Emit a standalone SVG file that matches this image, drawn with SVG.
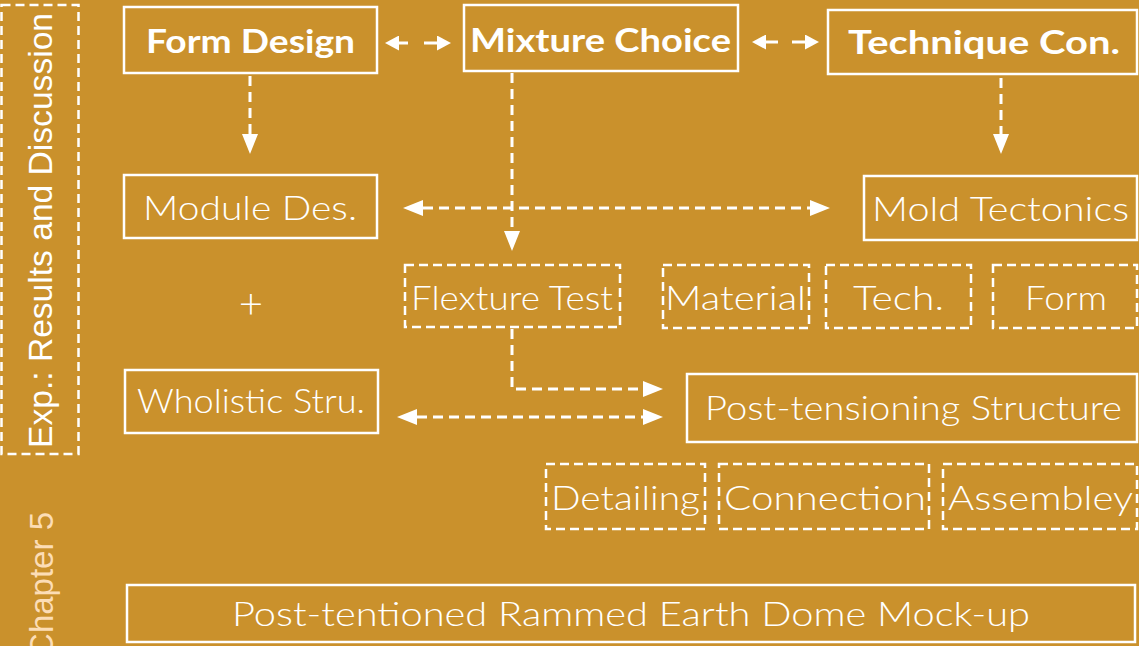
<svg xmlns="http://www.w3.org/2000/svg" width="1139" height="646" viewBox="0 0 1139 646">
<style>
.box{fill:none;stroke:#fff;stroke-width:2.5}
.dbox{fill:none;stroke:#fff;stroke-width:2.5;stroke-dasharray:9 5}
.t{font-family:Lato,"Liberation Sans",sans-serif;font-weight:300;font-size:34px;fill:#fff}
.b{font-family:Lato,"Liberation Sans",sans-serif;font-weight:700;font-size:33px;fill:#fff}
.side{font-family:"Liberation Sans",Arial,sans-serif;font-size:33px}
.c{fill:none;stroke:#fff;stroke-width:3;stroke-dasharray:10 6}
</style>
<defs>
<marker id="ah" viewBox="0 0 20 16" refX="0" refY="8" markerWidth="20" markerHeight="16" markerUnits="userSpaceOnUse" orient="auto-start-reverse">
<path d="M0,0 L20,8 L0,16 z" fill="#fff"/>
</marker>
<marker id="as" viewBox="0 0 14 15" refX="0" refY="7.5" markerWidth="14" markerHeight="15" markerUnits="userSpaceOnUse" orient="auto-start-reverse">
<path d="M0,0 L14,7.5 L0,15 z" fill="#fff"/>
</marker>
</defs>
<rect width="1139" height="646" fill="#CA912C"/>

<g id="side-box">
<rect x="1.5" y="5" width="77" height="449" class="dbox"/>
<text class="side" fill="#fff" transform="translate(52,448) rotate(-90)" textLength="435" lengthAdjust="spacingAndGlyphs">Exp.: Results and Discussion</text>
</g>
<g id="chapter">
<text class="side" fill="#FCDDB6" text-anchor="end" transform="translate(53,512) rotate(-90)">Chapter 5</text>
</g>

<g id="form-design">
<rect x="124" y="7" width="253" height="66" class="box"/>
<text class="b" x="146" y="53" textLength="209" lengthAdjust="spacingAndGlyphs">Form Design</text>
</g>
<g id="mixture-choice">
<rect x="464" y="5" width="274" height="66" class="box"/>
<text class="b" x="470" y="52" textLength="261" lengthAdjust="spacingAndGlyphs">Mixture Choice</text>
</g>
<g id="technique-con">
<rect x="828" y="10" width="309" height="64" class="box"/>
<text class="b" x="848" y="54" textLength="272" lengthAdjust="spacingAndGlyphs">Technique Con.</text>
</g>

<g id="module-des">
<rect x="124" y="175" width="253" height="63" class="box"/>
<text class="t" x="143" y="220" textLength="214" lengthAdjust="spacingAndGlyphs">Module Des.</text>
</g>
<g id="mold-tectonics">
<rect x="864" y="176" width="273" height="64" class="box"/>
<text class="t" x="872" y="221" textLength="257" lengthAdjust="spacingAndGlyphs">Mold Tectonics</text>
</g>

<g id="plus">
<text class="t" x="251" y="318" text-anchor="middle" style="font-size:42px">+</text>
</g>

<g id="flexture-test">
<rect x="405" y="265" width="215" height="62" class="dbox"/>
<text class="t" x="411" y="310" textLength="202" lengthAdjust="spacingAndGlyphs">Flexture Test</text>
</g>
<g id="material">
<rect x="663" y="265" width="146" height="63" class="dbox"/>
<text class="t" x="665" y="310" textLength="141" lengthAdjust="spacingAndGlyphs">Material</text>
</g>
<g id="tech">
<rect x="826" y="265" width="145" height="63" class="dbox"/>
<text class="t" x="853" y="310" textLength="91" lengthAdjust="spacingAndGlyphs">Tech.</text>
</g>
<g id="form">
<rect x="993" y="265" width="144" height="63" class="dbox"/>
<text class="t" x="1025" y="310" textLength="82" lengthAdjust="spacingAndGlyphs">Form</text>
</g>

<g id="wholistic-stru">
<rect x="125" y="370" width="253" height="63" class="box"/>
<text class="t" x="137" y="413" textLength="228" lengthAdjust="spacingAndGlyphs">Wholistic Stru.</text>
</g>
<g id="post-tensioning-structure">
<rect x="687" y="374" width="450" height="68" class="box"/>
<text class="t" x="705" y="420" textLength="417" lengthAdjust="spacingAndGlyphs">Post-tensioning Structure</text>
</g>

<g id="detailing">
<rect x="546" y="464" width="159" height="65" class="dbox"/>
<text class="t" x="551" y="510" textLength="149" lengthAdjust="spacingAndGlyphs">Detailing</text>
</g>
<g id="connection">
<rect x="719" y="464" width="210" height="65" class="dbox"/>
<text class="t" x="724" y="510" textLength="202" lengthAdjust="spacingAndGlyphs">Connection</text>
</g>
<g id="assembley">
<rect x="943" y="464" width="194" height="65" class="dbox"/>
<text class="t" x="948" y="510" textLength="185" lengthAdjust="spacingAndGlyphs">Assembley</text>
</g>

<g id="mock-up">
<rect x="127" y="585" width="1008" height="57" class="box"/>
<text class="t" x="232" y="626" textLength="798" lengthAdjust="spacingAndGlyphs">Post-tentioned Rammed Earth Dome Mock-up</text>
</g>

<g id="connectors">
<path d="M399,43 H437" class="c" style="stroke-dasharray:9 16 20" marker-start="url(#as)" marker-end="url(#as)"/>
<path d="M766,42 H805" class="c" style="stroke-dasharray:12 14 20" marker-start="url(#as)" marker-end="url(#as)"/>
<path d="M250,76 V134" class="c" marker-end="url(#ah)"/>
<path d="M512,73 V231" class="c" marker-end="url(#ah)"/>
<path d="M1001,78 V134" class="c" marker-end="url(#ah)"/>
<path d="M423,208 H810" class="c" marker-start="url(#ah)" marker-end="url(#ah)"/>
<path d="M512,329 V389 H643" class="c" marker-end="url(#ah)"/>
<path d="M417,417 H643" class="c" marker-start="url(#ah)" marker-end="url(#ah)"/>
</g>
</svg>
